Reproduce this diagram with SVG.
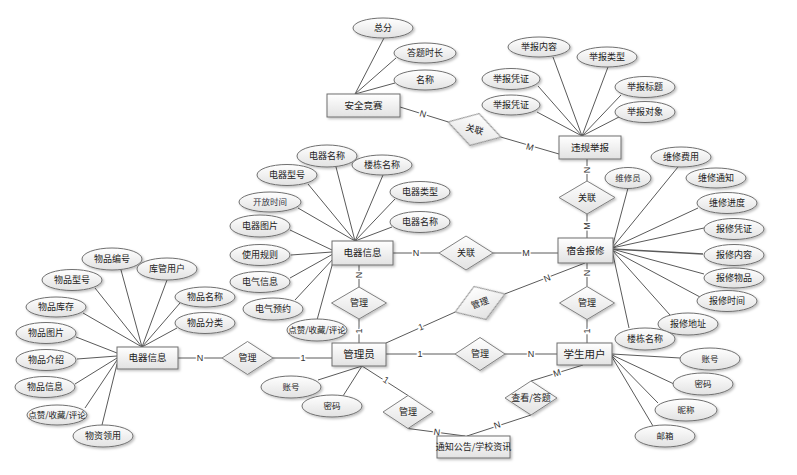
<svg xmlns="http://www.w3.org/2000/svg" width="797" height="475" viewBox="0 0 797 475">
<defs>
<linearGradient id="g" x1="0" y1="0" x2="0" y2="1"><stop offset="0" stop-color="#ffffff"/><stop offset="1" stop-color="#e2e2e2"/></linearGradient>
<filter id="sh" x="-20%" y="-20%" width="140%" height="150%"><feDropShadow dx="1.5" dy="1.5" stdDeviation="0.8" flood-color="#000" flood-opacity="0.25"/></filter>
<style>
.ent rect{fill:url(#g);stroke:#6e6e6e;stroke-width:1;filter:url(#sh)}
.rel polygon{fill:url(#g);stroke:#808080;stroke-width:1;filter:url(#sh)}
.att ellipse{fill:url(#g);stroke:#707070;stroke-width:1;filter:url(#sh)}
text{font-family:"Noto Sans CJK SC","Liberation Sans",sans-serif;text-anchor:middle;fill:#222}
.ent text{font-size:9.5px}
.rel text{font-size:9px}
.att text{font-size:9px}
#conn line{stroke:#5a5a5a;stroke-width:1}
#conn text{font-size:9px;fill:#333;stroke:#fff;stroke-width:3;paint-order:stroke;font-family:"Liberation Sans",sans-serif}
</style>
</defs>
<rect width="797" height="475" fill="#fff"/>
<g id="conn">
<line x1="400" y1="107" x2="448.1" y2="121.9"/><line x1="500.9" y1="137.1" x2="559" y2="154"/>
<line x1="587" y1="159" x2="587" y2="181"/><line x1="587" y1="214" x2="587" y2="238"/>
<line x1="393" y1="253" x2="439" y2="253"/><line x1="493" y1="253" x2="558" y2="253"/>
<line x1="359" y1="265" x2="359" y2="287"/><line x1="359" y1="319" x2="359" y2="343"/>
<line x1="178" y1="358" x2="222" y2="358"/><line x1="273" y1="358" x2="332" y2="358"/>
<line x1="386" y1="343" x2="455.1" y2="312.1"/><line x1="504.9" y1="293.9" x2="585" y2="263"/>
<line x1="587" y1="263" x2="587" y2="286.5"/><line x1="587" y1="319.5" x2="587" y2="343"/>
<line x1="386" y1="354" x2="455" y2="354"/><line x1="505" y1="354" x2="557" y2="354"/>
<line x1="362" y1="366" x2="408" y2="395.5"/><line x1="408" y1="428.5" x2="465" y2="436"/>
<line x1="583" y1="365" x2="531" y2="381"/><line x1="531" y1="415" x2="467" y2="436"/>
<line x1="355" y1="94" x2="384" y2="38"/><line x1="355" y1="94" x2="396" y2="58"/><line x1="355" y1="94" x2="395" y2="83"/>
<line x1="582" y1="136" x2="553" y2="57"/><line x1="582" y1="136" x2="608" y2="67"/><line x1="582" y1="136" x2="538" y2="86"/>
<line x1="582" y1="136" x2="621" y2="95"/><line x1="582" y1="136" x2="537" y2="112"/><line x1="582" y1="136" x2="619" y2="117"/>
<line x1="355" y1="241" x2="336" y2="167"/><line x1="355" y1="241" x2="383" y2="175"/><line x1="355" y1="241" x2="308" y2="184"/>
<line x1="355" y1="241" x2="395" y2="199"/><line x1="355" y1="241" x2="298" y2="208"/><line x1="355" y1="241" x2="392" y2="227"/>
<line x1="332" y1="250" x2="290" y2="230"/><line x1="332" y1="252" x2="291" y2="255"/>
<line x1="333" y1="254" x2="290" y2="278"/><line x1="334" y1="258" x2="295" y2="300"/><line x1="333" y1="262" x2="317" y2="320"/>
<line x1="142" y1="347" x2="121" y2="270"/><line x1="142" y1="347" x2="167" y2="280"/><line x1="142" y1="347" x2="95" y2="288"/>
<line x1="142" y1="347" x2="180" y2="303"/><line x1="142" y1="347" x2="83" y2="313"/><line x1="142" y1="347" x2="177" y2="328"/>
<line x1="117" y1="353" x2="76" y2="337"/><line x1="117" y1="356" x2="77" y2="359"/><line x1="117" y1="358" x2="75" y2="384"/>
<line x1="117" y1="360" x2="85" y2="408"/><line x1="117" y1="364" x2="102" y2="425"/>
<line x1="612" y1="248" x2="628" y2="188"/><line x1="612" y1="248" x2="678" y2="167"/><line x1="612" y1="248" x2="698" y2="208"/>
<line x1="612" y1="248" x2="704" y2="228"/><line x1="612" y1="249" x2="703" y2="254" style="stroke-width:1.6"/><line x1="612" y1="249" x2="704" y2="274"/>
<line x1="612" y1="250" x2="700" y2="297"/><line x1="612" y1="250" x2="670" y2="315"/><line x1="612" y1="250" x2="629" y2="328"/>
<line x1="612" y1="354" x2="680" y2="358"/><line x1="612" y1="355" x2="674" y2="384"/><line x1="612" y1="356" x2="658" y2="403"/><line x1="612" y1="357" x2="653" y2="426"/>
<line x1="362" y1="366" x2="318" y2="380"/><line x1="362" y1="366" x2="343" y2="396"/>
<text x="423" y="114" dy="0.35em" transform="rotate(16 423 114)">N</text>
<text x="530" y="147" dy="0.35em" transform="rotate(16 530 147)">M</text>
<text x="587" y="170" dy="0.35em" transform="rotate(-90 587 170)">N</text>
<text x="587" y="226" dy="0.35em" transform="rotate(-90 587 226)">M</text>
<text x="416" y="253" dy="0.35em">N</text>
<text x="526" y="253" dy="0.35em">M</text>
<text x="359" y="275" dy="0.35em" transform="rotate(-90 359 275)">N</text>
<text x="359" y="331" dy="0.35em" transform="rotate(-90 359 331)">1</text>
<text x="200" y="358" dy="0.35em">N</text>
<text x="303" y="358" dy="0.35em">1</text>
<text x="421" y="327" dy="0.35em" transform="rotate(-22 421 327)">1</text>
<text x="547" y="278" dy="0.35em" transform="rotate(-22 547 278)">N</text>
<text x="587" y="273" dy="0.35em" transform="rotate(-90 587 273)">N</text>
<text x="587" y="331" dy="0.35em" transform="rotate(-90 587 331)">1</text>
<text x="420" y="354" dy="0.35em">1</text>
<text x="531" y="354" dy="0.35em">N</text>
<text x="386" y="380" dy="0.35em" transform="rotate(33 386 380)">1</text>
<text x="437" y="432" dy="0.35em" transform="rotate(8 437 432)">N</text>
<text x="557" y="373" dy="0.35em" transform="rotate(-17 557 373)">M</text>
<text x="497" y="425" dy="0.35em" transform="rotate(-18 497 425)">N</text>
</g>
<g id="r-guanlian1" class="rel" transform="translate(474.5 129.5) rotate(16)"><polygon points="-27.5,0 0,-16.5 27.5,0 0,16.5"/><text x="0" y="0" dy="0.35em">关联</text></g>
<g id="r-guanlian2" class="rel"><polygon points="559,197.5 587,181 615,197.5 587,214"/><text x="587" y="197.5" dy="0.35em">关联</text></g>
<g id="r-guanlian3" class="rel"><polygon points="439,253 466,236 493,253 466,270"/><text x="466" y="253" dy="0.35em">关联</text></g>
<g id="r-guanli1" class="rel"><polygon points="331.5,303 359,287 386.5,303 359,319"/><text x="359" y="303" dy="0.35em">管理</text></g>
<g id="r-guanli2" class="rel"><polygon points="222,358 247.5,341.5 273,358 247.5,374.5"/><text x="247.5" y="358" dy="0.35em">管理</text></g>
<g id="r-guanli3" class="rel" transform="translate(480 303) rotate(-20)"><polygon points="-26.5,0 0,-17.5 26.5,0 0,17.5"/><text x="0" y="0" dy="0.35em">管理</text></g>
<g id="r-guanli4" class="rel"><polygon points="559.5,303 587,286.5 614.5,303 587,319.5"/><text x="587" y="303" dy="0.35em">管理</text></g>
<g id="r-guanli5" class="rel"><polygon points="455,354 480,337.5 505,354 480,370.5"/><text x="480" y="354" dy="0.35em">管理</text></g>
<g id="r-guanli6" class="rel"><polygon points="383,412 408,395.5 433,412 408,428.5"/><text x="408" y="412" dy="0.35em">管理</text></g>
<g id="r-chakan" class="rel"><polygon points="505,398 531,381 557,398 531,415"/><text x="531" y="398" dy="0.35em">查看/答题</text></g>
<g id="e-anquan" class="ent"><rect x="327" y="94" width="73" height="23"/><text x="363.5" y="105.5" dy="0.35em">安全竞赛</text></g>
<g id="e-weigui" class="ent"><rect x="559" y="136" width="62" height="23"/><text x="590" y="147.5" dy="0.35em">违规举报</text></g>
<g id="e-sushe" class="ent"><rect x="558" y="238" width="55" height="25"/><text x="585.5" y="250.5" dy="0.35em">宿舍报修</text></g>
<g id="e-dianqi1" class="ent"><rect x="332" y="241" width="61" height="24"/><text x="362.5" y="253" dy="0.35em">电器信息</text></g>
<g id="e-dianqi2" class="ent"><rect x="117" y="347" width="61" height="22"/><text x="147.5" y="358" dy="0.35em">电器信息</text></g>
<g id="e-admin" class="ent"><rect x="332" y="343" width="54" height="23"/><text x="359" y="354.5" dy="0.35em" style="font-size:10.5px">管理员</text></g>
<g id="e-student" class="ent"><rect x="557" y="343" width="55" height="22"/><text x="584.5" y="354" dy="0.35em" style="font-size:10.5px">学生用户</text></g>
<g id="e-notice" class="ent"><rect x="437" y="436" width="73" height="22"/><text x="473.5" y="447" dy="0.35em" style="font-size:9px">通知公告/学校资讯</text></g>
<g id="a-zongfen" class="att"><ellipse cx="383" cy="28" rx="30" ry="10"/><text x="383" y="28" dy="0.35em">总分</text></g>
<g id="a-datishichang" class="att"><ellipse cx="425" cy="53" rx="31" ry="10"/><text x="425" y="53" dy="0.35em">答题时长</text></g>
<g id="a-mingcheng" class="att"><ellipse cx="425" cy="80" rx="31" ry="10"/><text x="425" y="80" dy="0.35em">名称</text></g>
<g id="a-jbnr" class="att"><ellipse cx="539" cy="47" rx="31" ry="10"/><text x="539" y="47" dy="0.35em">举报内容</text></g>
<g id="a-jblx" class="att"><ellipse cx="607" cy="57" rx="30" ry="10"/><text x="607" y="57" dy="0.35em">举报类型</text></g>
<g id="a-jbpz1" class="att"><ellipse cx="511" cy="79" rx="29" ry="10.5"/><text x="511" y="79" dy="0.35em">举报凭证</text></g>
<g id="a-jbbt" class="att"><ellipse cx="645" cy="87" rx="30" ry="10.5"/><text x="645" y="87" dy="0.35em">举报标题</text></g>
<g id="a-jbpz2" class="att"><ellipse cx="511" cy="105" rx="29" ry="10"/><text x="511" y="105" dy="0.35em">举报凭证</text></g>
<g id="a-jbdx" class="att"><ellipse cx="645" cy="112" rx="30" ry="10.5"/><text x="645" y="112" dy="0.35em">举报对象</text></g>
<g id="a-dqmc1" class="att"><ellipse cx="327" cy="156" rx="30" ry="11"/><text x="327" y="156" dy="0.35em">电器名称</text></g>
<g id="a-ldmc1" class="att"><ellipse cx="382" cy="165" rx="30" ry="10"/><text x="382" y="165" dy="0.35em">楼栋名称</text></g>
<g id="a-dqxh" class="att"><ellipse cx="287" cy="175" rx="30" ry="10.5"/><text x="287" y="175" dy="0.35em">电器型号</text></g>
<g id="a-dqlx" class="att"><ellipse cx="420" cy="192" rx="30" ry="10.5"/><text x="420" y="192" dy="0.35em">电器类型</text></g>
<g id="a-kfsj" class="att"><ellipse cx="270" cy="202" rx="31" ry="10"/><text x="270" y="202" dy="0.35em" style="font-size:8.5px;fill:#334">开放时间</text></g>
<g id="a-dqmc2" class="att"><ellipse cx="420" cy="222" rx="30" ry="10.5"/><text x="420" y="222" dy="0.35em">电器名称</text></g>
<g id="a-dqtp" class="att"><ellipse cx="260" cy="226" rx="30" ry="11"/><text x="260" y="226" dy="0.35em">电器图片</text></g>
<g id="a-syge" class="att"><ellipse cx="260" cy="255" rx="30" ry="10.5"/><text x="260" y="255" dy="0.35em">使用规则</text></g>
<g id="a-dqxx" class="att"><ellipse cx="260" cy="282" rx="30" ry="10.5"/><text x="260" y="282" dy="0.35em">电气信息</text></g>
<g id="a-dqyy" class="att"><ellipse cx="273" cy="309" rx="30" ry="11"/><text x="273" y="309" dy="0.35em">电气预约</text></g>
<g id="a-dzsc1" class="att"><ellipse cx="317" cy="330" rx="30" ry="11"/><text x="317" y="330" dy="0.35em" style="font-size:8.5px">点赞/收藏/评论</text></g>
<g id="a-wpbh" class="att"><ellipse cx="112" cy="259" rx="30" ry="11"/><text x="112" y="259" dy="0.35em">物品编号</text></g>
<g id="a-kgyh" class="att"><ellipse cx="167" cy="269" rx="30" ry="11"/><text x="167" y="269" dy="0.35em">库管用户</text></g>
<g id="a-wpxh" class="att"><ellipse cx="72" cy="280" rx="30" ry="10.5"/><text x="72" y="280" dy="0.35em">物品型号</text></g>
<g id="a-wpmc" class="att"><ellipse cx="205" cy="297" rx="30" ry="10"/><text x="205" y="297" dy="0.35em">物品名称</text></g>
<g id="a-wpkc" class="att"><ellipse cx="56" cy="307" rx="30" ry="10"/><text x="56" y="307" dy="0.35em">物品库存</text></g>
<g id="a-wpfl" class="att"><ellipse cx="205" cy="323" rx="30" ry="10.5"/><text x="205" y="323" dy="0.35em">物品分类</text></g>
<g id="a-wptp" class="att"><ellipse cx="46" cy="333" rx="30" ry="10.5"/><text x="46" y="333" dy="0.35em">物品图片</text></g>
<g id="a-wpjs" class="att"><ellipse cx="46" cy="360" rx="30" ry="10.5"/><text x="46" y="360" dy="0.35em">物品介绍</text></g>
<g id="a-wpxx" class="att"><ellipse cx="45" cy="387" rx="30" ry="10.5"/><text x="45" y="387" dy="0.35em">物品信息</text></g>
<g id="a-dzsc2" class="att"><ellipse cx="57" cy="415" rx="30" ry="10"/><text x="57" y="415" dy="0.35em" style="font-size:8.5px">点赞/收藏/评论</text></g>
<g id="a-wzly" class="att"><ellipse cx="103" cy="436" rx="30" ry="11"/><text x="103" y="436" dy="0.35em">物资领用</text></g>
<g id="a-wxy" class="att"><ellipse cx="628" cy="178" rx="23" ry="10.5"/><text x="628" y="178" dy="0.35em" style="font-size:8.5px;fill:#333">维修员</text></g>
<g id="a-wxfy" class="att"><ellipse cx="681" cy="157" rx="30" ry="10"/><text x="681" y="157" dy="0.35em">维修费用</text></g>
<g id="a-wxtz" class="att"><ellipse cx="716" cy="178" rx="30" ry="10"/><text x="716" y="178" dy="0.35em">维修通知</text></g>
<g id="a-wxjd" class="att"><ellipse cx="727" cy="203" rx="30" ry="10.5"/><text x="727" y="203" dy="0.35em">维修进度</text></g>
<g id="a-bxpz" class="att"><ellipse cx="734" cy="229" rx="30" ry="10.5"/><text x="734" y="229" dy="0.35em">报修凭证</text></g>
<g id="a-bxnr" class="att"><ellipse cx="734" cy="255" rx="30" ry="10.5"/><text x="734" y="255" dy="0.35em">报修内容</text></g>
<g id="a-bxwp" class="att"><ellipse cx="734" cy="278" rx="30" ry="10"/><text x="734" y="278" dy="0.35em">报修物品</text></g>
<g id="a-bxsj" class="att"><ellipse cx="727" cy="301" rx="30" ry="10.5"/><text x="727" y="301" dy="0.35em">报修时间</text></g>
<g id="a-bxdz" class="att"><ellipse cx="688" cy="324" rx="30" ry="11"/><text x="688" y="324" dy="0.35em">报修地址</text></g>
<g id="a-ldmc2" class="att"><ellipse cx="645" cy="339" rx="30" ry="11"/><text x="645" y="339" dy="0.35em">楼栋名称</text></g>
<g id="a-zh2" class="att"><ellipse cx="710" cy="359" rx="30" ry="11"/><text x="710" y="359" dy="0.35em" style="font-size:8.5px">账号</text></g>
<g id="a-mm2" class="att"><ellipse cx="703" cy="384" rx="30" ry="11"/><text x="703" y="384" dy="0.35em" style="font-size:8.5px">密码</text></g>
<g id="a-nc" class="att"><ellipse cx="686" cy="410" rx="31" ry="11"/><text x="686" y="410" dy="0.35em" style="font-size:8.5px">昵称</text></g>
<g id="a-yx" class="att"><ellipse cx="665" cy="436" rx="30" ry="11"/><text x="665" y="436" dy="0.35em" style="font-size:8.5px">邮箱</text></g>
<g id="a-zh1" class="att"><ellipse cx="291" cy="387" rx="30" ry="11"/><text x="291" y="387" dy="0.35em" style="font-size:8.5px">账号</text></g>
<g id="a-mm1" class="att"><ellipse cx="332" cy="406" rx="30" ry="11"/><text x="332" y="406" dy="0.35em" style="font-size:8.5px">密码</text></g>
</svg>
